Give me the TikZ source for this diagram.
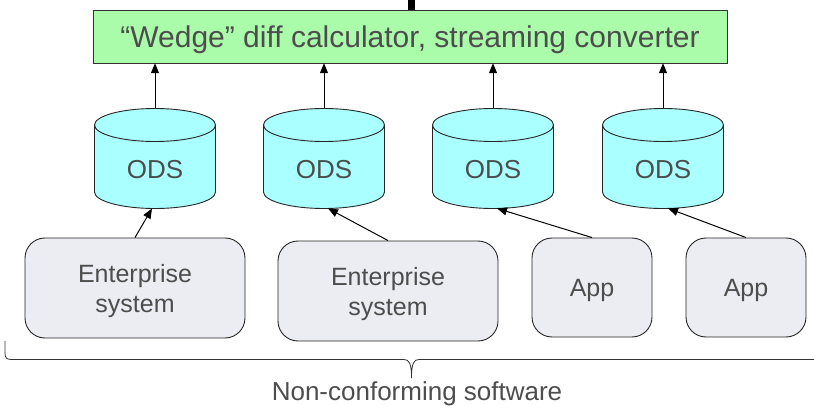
\documentclass[tikz,border=0pt]{standalone}
\usepackage{fontspec}
\setmainfont{Liberation Sans}
\usetikzlibrary{arrows.meta}
\definecolor{barfill}{HTML}{AAFCAA}
\definecolor{odsfill}{HTML}{AAFFFF}
\definecolor{boxfill}{HTML}{EBEDF2}
\definecolor{txt}{HTML}{4D4D4D}
\begin{document}
\begin{tikzpicture}[x=1pt,y=-1pt,
  bar/.style={draw=black!80, fill=barfill, minimum width=634pt, minimum height=53pt, inner sep=0pt, text depth=0pt, text=txt, font=\fontsize{30}{36}\selectfont},
  sysbox/.style={draw=black!85, line width=0.9pt, fill=boxfill, rounded corners=20pt, inner sep=0pt, text depth=0pt, text=txt, align=center, font=\fontsize{25}{30}\selectfont},
  cylline/.style={draw=black!85, line width=0.9pt},
  lbl/.style={text=txt, inner sep=0pt, font=\fontsize{26}{30}\selectfont},
  arr/.style={-{Triangle[length=10pt,width=8pt]}, line width=1pt},
]
\useasboundingbox (0,0) rectangle (814,406);
\clip (0,0) rectangle (814,406);

% top bar
\node[bar] (calc) at (410,36.5) {“Wedge” diff calculator, streaming converter};
\coordinate (feed) at (411.5,-5);
\draw[line width=7pt] (feed) -- (feed |- calc.north);

% cylinders
\foreach \i/\cx in {1/155,2/324,3/493,4/663}{
  \fill[odsfill] ({\cx-60.5},125) -- ({\cx-60.5},192) arc[start angle=180,end angle=360,x radius=60.5pt,y radius=16.5pt] -- ({\cx+60.5},125) -- cycle;
  \draw[cylline] ({\cx-60.5},125) -- ({\cx-60.5},192) arc[start angle=180,end angle=360,x radius=60.5pt,y radius=16.5pt] -- ({\cx+60.5},125);
  \draw[cylline, fill=odsfill] (\cx,125) ellipse[x radius=60.5pt,y radius=16.5pt];
  \node[lbl] (ods\i) at (\cx,170) {ODS};
  \coordinate (ods\i t) at (\cx,108.5);
  \draw[arr] (ods\i t) -- (ods\i t |- calc.south);
}
\coordinate (ods1b) at (152,208.5);
\coordinate (ods2b) at (328,208.4);
\coordinate (ods3b) at (497,208.4);
\coordinate (ods4b) at (668,208.3);

% systems
\node[sysbox, minimum width=220pt, minimum height=100pt] (sys1) at (135,288) {Enterprise\\system};
\node[sysbox, minimum width=220pt, minimum height=100pt] (sys2) at (388,291) {Enterprise\\system};
\node[sysbox, minimum width=120pt, minimum height=99pt] (sys3) at (592,287.5) {App};
\node[sysbox, minimum width=120pt, minimum height=99pt] (sys4) at (746,287.5) {App};

\draw[arr] (sys1.north) -- (ods1b);
\draw[arr] (sys2.north) -- (ods2b);
\draw[arr] (sys3.north) -- (ods3b);
\draw[arr] (sys4.north) -- (ods4b);

% brace
\draw[line width=0.8pt, black!80] (5,341) -- (5,353) .. controls (5,358.5) and (7,359.5) .. (12,359.5) -- (404,359.5) .. controls (409,359.5) and (411.5,363) .. (411.5,378) .. controls (411.5,363) and (414,359.5) .. (419,359.5) -- (830,359.5);
\node[lbl] (ncs) at (417,393.5) {Non-conforming software};
\end{tikzpicture}
\end{document}
